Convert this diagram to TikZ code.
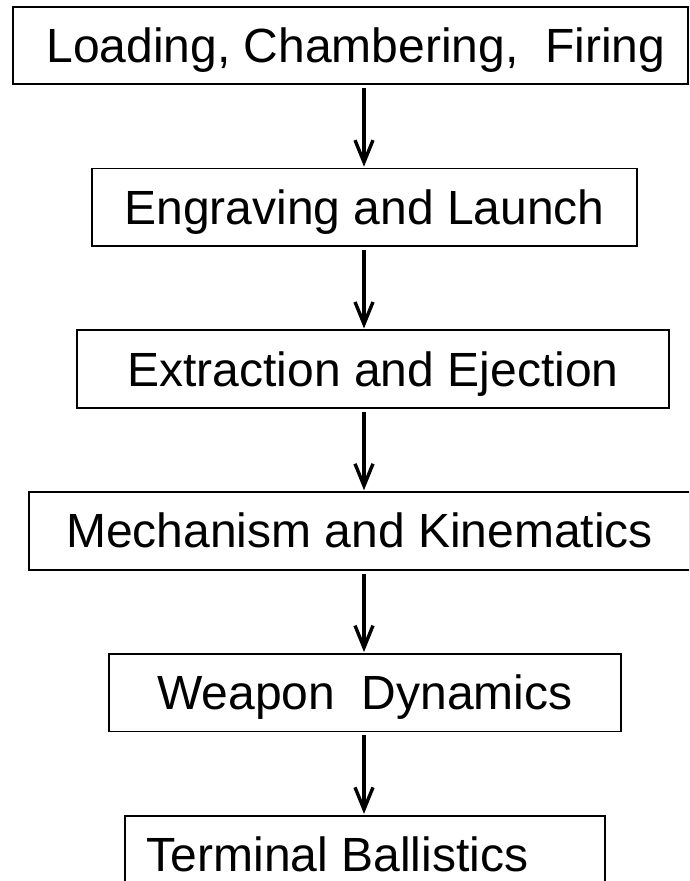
\documentclass[tikz,border=0pt]{standalone}
\usepackage{fontspec}
\setmainfont{Liberation Sans}
\usetikzlibrary{positioning}
\usetikzlibrary{arrows.meta}

\begin{document}
\begin{tikzpicture}[->,>={Straight Barb[length=22pt,width=18pt]},shorten >=1pt,shorten <=3pt,
  x=1pt,y=-1pt,node distance=82.5pt,
  stage node/.style={rectangle,draw,line width=1.8pt,fill=white,inner sep=0pt,minimum height=77.5pt,
    text height=34pt,text depth=0pt,font=\fontsize{48}{58}\selectfont},
  flow/.style={line width=3.4pt}]

  \useasboundingbox (0,0) rectangle (689,881);
  \clip (0,0) rectangle (689,881);
  \coordinate (axis) at (364,0);

  \node[stage node,minimum width=675pt] (n0) at (350.5,45.5) {\kern11pt Loading, Chambering,\ \ Firing};
  \node[stage node,minimum width=545pt] (n1) [below=of n0,xshift=14pt] {Engraving and Launch};
  \node[stage node,minimum width=592pt] (n2) [below=of n1,xshift=8.5pt] {Extraction and Ejection};
  \node[stage node,minimum width=661pt] (n3) [below=of n2,xshift=-13.5pt] {Mechanism and Kinematics};
  \node[stage node,minimum width=512pt] (n4) [below=of n3,xshift=5.5pt] {Weapon\ \ Dynamics};
  \node[stage node,minimum width=480pt] (n5) [below=of n4] {Terminal Ballistics\kern55pt};

  \foreach \a/\b in {n0/n1,n1/n2,n2/n3,n3/n4,n4/n5}
    \draw[flow] (\a.south -| axis) -- (\b.north -| axis);

\end{tikzpicture}
\end{document}
